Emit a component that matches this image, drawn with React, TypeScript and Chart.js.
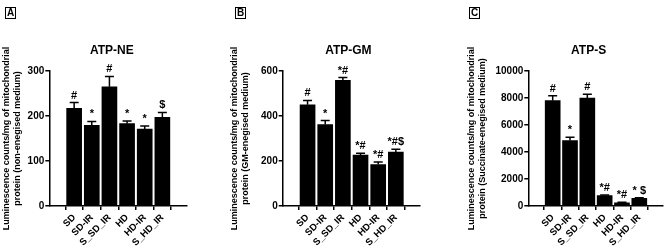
import React, { useEffect, useRef } from "react";
import { Chart, registerables } from "chart.js";

Chart.register(...registerables);

const FONT = "'Liberation Sans', Arial, Helvetica, sans-serif";
Chart.defaults.font.family = FONT;
Chart.defaults.color = "#000";

// ---- data ----
const categories = ["SD", "SD-IR", "S_SD_IR", "HD", "HD-IR", "S_HD_IR"];

const neMeans = [217, 179, 265, 183, 171, 197];
const neErrors = [13, 9, 23, 6, 7, 11];
const neMarks = ["#", "*", "#", "*", "*", "$"];
const neTicks = [0, 100, 200, 300];

const gmMeans = [450, 362, 558, 226, 184, 240];
const gmErrors = [19, 18, 13, 9, 12, 12];
const gmMarks = ["#", "*", "*#", "*#", "*#", "*#$"];
const gmTicks = [0, 200, 400, 600];

const sMeans = [7800, 4850, 7990, 770, 230, 560];
const sErrors = [370, 250, 290, 40, 40, 50];
const sMarks = ["#", "*", "#", "*#", "*#", "* $"];
const sTicks = [0, 2000, 4000, 6000, 8000, 10000];

const yTitleLine1 = "Luminescence counts/mg of mitochondrial";

type Panel = {
  letter: string;
  title: string;
  yTitle: string[];
  means: number[];
  errors: number[];
  marks: string[];
  ticks: number[];
  left: number;
  padLeft: number;
  axisWidth: number;
  padRight: number;
  titleDx: number;
  boxLeft: number;
};

const panels: Panel[] = [
  {
    letter: "A",
    title: "ATP-NE",
    yTitle: [yTitleLine1, "protein (non-enegised medium)"],
    means: neMeans,
    errors: neErrors,
    marks: neMarks,
    ticks: neTicks,
    left: 0,
    padLeft: 1,
    axisWidth: 48.3,
    padRight: 36.5,
    titleDx: -6,
    boxLeft: 5,
  },
  {
    letter: "B",
    title: "ATP-GM",
    yTitle: [yTitleLine1, "protein (GM-enegised medium)"],
    means: gmMeans,
    errors: gmErrors,
    marks: gmMarks,
    ticks: gmTicks,
    left: 223,
    padLeft: 6,
    axisWidth: 53.7,
    padRight: 26,
    titleDx: -3,
    boxLeft: 12,
  },
  {
    letter: "C",
    title: "ATP-S",
    yTitle: [yTitleLine1, "protein (Succinate-enegised medium)"],
    means: sMeans,
    errors: sErrors,
    marks: sMarks,
    ticks: sTicks,
    left: 446,
    padLeft: 20,
    axisWidth: 62.3,
    padRight: 6,
    titleDx: -7,
    boxLeft: 23,
  },
];

const W = 223;
const H = 250;

function BarPanel({ p }: { p: Panel }) {
  const ref = useRef<HTMLCanvasElement | null>(null);

  useEffect(() => {
    if (!ref.current) return;
    const annotate = {
      id: "annotate" + p.letter,
      afterDatasetsDraw(chart: any) {
        const { ctx, chartArea, scales } = chart;
        const xs = scales.x;
        const ys = scales.y;
        ctx.save();
        ctx.strokeStyle = "#000";
        ctx.fillStyle = "#000";
        ctx.lineWidth = 1.5;
        p.means.forEach((m, i) => {
          const px = xs.getPixelForValue(i);
          const yTop = ys.getPixelForValue(m);
          const yCap = ys.getPixelForValue(m + p.errors[i]);
          ctx.beginPath();
          ctx.moveTo(px, yTop);
          ctx.lineTo(px, yCap);
          ctx.moveTo(px - 4.5, yCap);
          ctx.lineTo(px + 4.5, yCap);
          ctx.stroke();
          ctx.font = `bold 11px ${FONT}`;
          ctx.textAlign = "center";
          ctx.textBaseline = "alphabetic";
          ctx.fillText(p.marks[i], px, yCap - 4);
        });
        ctx.font = `bold 12px ${FONT}`;
        ctx.textAlign = "center";
        ctx.textBaseline = "middle";
        ctx.fillText(p.title, (chartArea.left + chartArea.right) / 2 + p.titleDx, 51);
        ctx.restore();
      },
    };

    const chart = new Chart(ref.current, {
      type: "bar",
      data: {
        datasets: [
          {
            data: p.means.map((v, i) => ({ x: i, y: v })),
            backgroundColor: "#000",
            borderWidth: 0,
            barThickness: 15,
          },
        ],
      },
      options: {
        responsive: false,
        maintainAspectRatio: false,
        animation: false,
        events: [],
        layout: {
          padding: { left: p.padLeft, right: p.padRight, top: 71, bottom: 0 },
        },
        plugins: {
          legend: { display: false },
          tooltip: { enabled: false },
          title: { display: false },
        },
        scales: {
          x: {
            type: "linear",
            min: -0.76,
            max: 5.72,
            afterBuildTicks: (s: any) => {
              s.ticks = categories.map((_, i) => ({ value: i }));
            },
            afterFit: (s: any) => {
              s.height = 44;
            },
            ticks: {
              autoSkip: false,
              minRotation: 45,
              maxRotation: 45,
              padding: 2,
              font: { size: 9.5, weight: "bold" },
              color: "#000",
              callback: (v: any) => categories[Math.round(Number(v))] ?? "",
            },
            grid: {
              drawOnChartArea: false,
              drawTicks: true,
              tickLength: 4,
              color: "#000",
              lineWidth: 1.5,
            },
            border: { display: true, color: "#000", width: 1.5 },
          },
          y: {
            min: 0,
            max: p.ticks[p.ticks.length - 1],
            afterBuildTicks: (s: any) => {
              s.ticks = p.ticks.map((v) => ({ value: v }));
            },
            afterFit: (s: any) => {
              s.width = p.axisWidth;
            },
            ticks: {
              padding: 1,
              font: { size: 10, weight: "bold" },
              color: "#000",
              callback: (v: any) => String(v),
            },
            grid: {
              drawOnChartArea: false,
              drawTicks: true,
              tickLength: 4,
              color: "#000",
              lineWidth: 1.5,
            },
            border: { display: true, color: "#000", width: 1.5 },
            title: {
              display: true,
              text: p.yTitle,
              color: "#000",
              font: { size: 9, weight: "bold", lineHeight: 1.25 },
              padding: 0,
            },
          },
        },
      },
      plugins: [annotate],
    } as any);

    return () => chart.destroy();
  }, [p]);

  return (
    <div style={{ position: "absolute", left: p.left, top: 0, width: W, height: H }}>
      <canvas ref={ref} width={W} height={H} style={{ width: W, height: H, display: "block" }} />
      <div
        style={{
          position: "absolute",
          left: p.boxLeft,
          top: 7,
          width: 11,
          height: 12,
          boxSizing: "border-box",
          border: "1.5px solid #000",
          fontFamily: FONT,
          fontWeight: "bold",
          fontSize: 10,
          lineHeight: "9px",
          textAlign: "center",
          color: "#000",
        }}
      >
        {p.letter}
      </div>
    </div>
  );
}

export default function App() {
  return (
    <div
      style={{
        position: "fixed",
        left: 0,
        top: 0,
        width: 669,
        height: 250,
        background: "#fff",
        overflow: "hidden",
      }}
    >
      {panels.map((p) => (
        <BarPanel key={p.letter} p={p} />
      ))}
    </div>
  );
}
